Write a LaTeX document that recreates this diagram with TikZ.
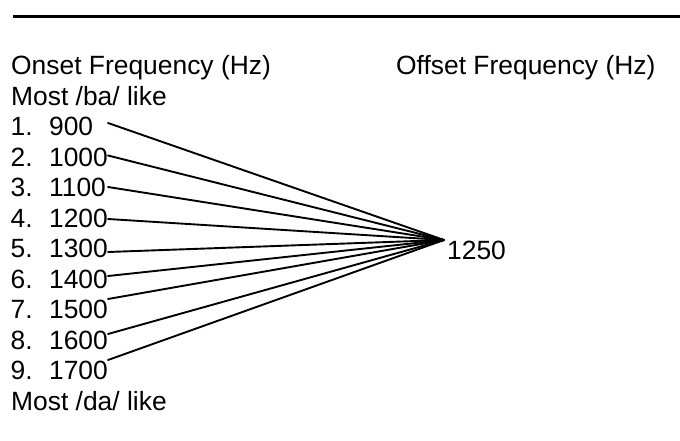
\documentclass[tikz,border=0pt]{standalone}
\usepackage{fontspec}
\setmainfont{Liberation Sans}
\begin{document}
\begin{tikzpicture}[x=1pt,y=-1pt,
  lbl/.style={anchor=base west,inner sep=0pt,font=\fontsize{26.4}{30}\selectfont},
  conn/.style={line width=1.9pt,line cap=round}]
\useasboundingbox (0,0) rectangle (680,441);
\coordinate (rl) at (13,16.7);
\coordinate (rr) at (680,16.7);
\draw[line width=2.4pt] (rl) -- (rr);
\node[lbl] (onset) at (11,75) {Onset Frequency (Hz)};
\node[lbl] (offset) at (396,75) {Offset Frequency (Hz)};
\node[lbl] (ba) at (11,105.5) {Most /ba/ like};
\foreach \i/\v in {1/900,2/1000,3/1100,4/1200,5/1300,6/1400,7/1500,8/1600,9/1700}{
  \node[lbl] (r\i) at (10.5,{105.5+30.45*\i}) {\makebox[38.4pt][l]{\i.}\v};
}
\node[lbl] (da) at (11,410) {Most /da/ like};
\node[lbl] (off) at (447,259) {1250};
\coordinate (hub) at (444,240);
\coordinate (s1) at (108,123);
\coordinate (s2) at (108,155.5);
\coordinate (s3) at (108,187);
\coordinate (s4) at (108,219);
\coordinate (s5) at (108,252);
\coordinate (s6) at (108,276);
\coordinate (s7) at (108,299);
\coordinate (s8) at (108,334);
\coordinate (s9) at (108,360);
\foreach \i in {1,...,9}{\draw[conn] (s\i) -- (hub);}
\end{tikzpicture}
\end{document}
